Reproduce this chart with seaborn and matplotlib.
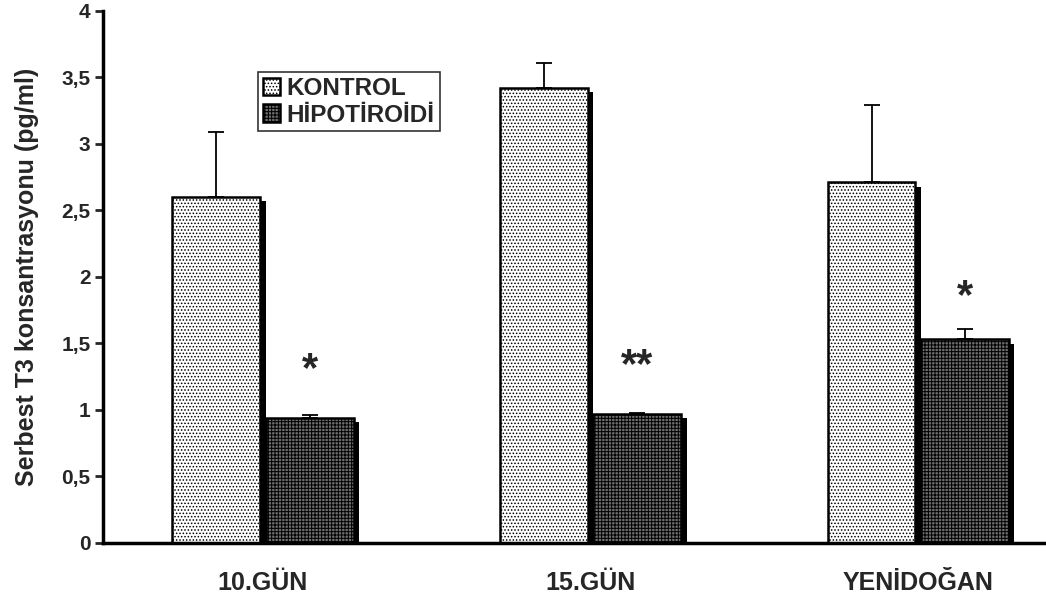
import pandas as pd
import matplotlib
matplotlib.use("Agg")
import matplotlib.pyplot as plt
import matplotlib.patheffects as pe
import seaborn as sns

# data
groups = ['10.GÜN', '15.GÜN', 'YENİDOĞAN']
kontrol = [2.60, 3.42, 2.71]
kontrol_err = [0.49, 0.19, 0.58]
hipo = [0.94, 0.97, 1.53]
hipo_err = [0.02, 0.01, 0.08]
stars = ['*', '**', '*']
star_y = [1.30, 1.33, 1.85]

df = pd.DataFrame({
    'grup': groups * 2,
    'deger': kontrol + hipo,
    'tur': ['KONTROL'] * 3 + ['HİPOTİROİDİ'] * 3,
})

sns.set_style('white')
plt.rcParams['font.family'] = ['Liberation Sans', 'DejaVu Sans']
plt.rcParams['font.weight'] = 'bold'
plt.rcParams['hatch.linewidth'] = 0.7

fig, ax = plt.subplots(figsize=(10.46, 6), dpi=100)
fig.subplots_adjust(left=0.0985, right=1.0, bottom=0.095, top=0.982)

sns.barplot(data=df, x='grup', y='deger', hue='tur', ax=ax,
            palette=['white', '#6e6e6e'], width=0.57, gap=0.06,
            edgecolor='black', linewidth=1.8, errorbar=None)

# drop shadow on the bars
shadow = [pe.SimplePatchShadow(offset=(4, -3), shadow_rgbFace='black', alpha=1.0),
          pe.Normal()]
hatches = ['.....'] * 3 + ['+++++'] * 3
errs = kontrol_err + hipo_err
bars = [p for p in ax.patches if p.get_height() > 0][:6]
for bar, h in zip(bars, hatches):
    bar.set_hatch(h)
    bar.set_path_effects(shadow)

xs = [b.get_x() + b.get_width() / 2 for b in bars]
ys = [b.get_height() for b in bars]
ax.errorbar(xs, ys, yerr=[[0] * 6, errs], fmt='none', ecolor='black',
            elinewidth=1.3, capsize=6, capthick=1.3, zorder=1)

for x, s, y in zip(xs[3:], stars, star_y):
    ax.text(x, y, s, ha='center', va='center', fontsize=30, fontweight='bold')

ax.set_xlim(-0.488, 2.39)
ax.set_ylim(0, 4)
ax.set_yticks([0, 0.5, 1, 1.5, 2, 2.5, 3, 3.5, 4])
ax.set_yticklabels(['0', '0,5', '1', '1,5', '2', '2,5', '3', '3,5', '4'])
ax.set_xlabel('')
ax.set_ylabel('Serbest T3 konsantrasyonu (pg/ml)', fontsize=18, fontweight='bold',
              labelpad=16)
ax.tick_params(axis='y', direction='out', length=6, width=2, labelsize=15, left=True,
               pad=3)
ax.tick_params(axis='x', length=0, labelsize=18, pad=20)
for t in ax.get_xticklabels() + ax.get_yticklabels():
    t.set_fontweight('bold')

sns.despine(ax=ax)
ax.spines['left'].set_linewidth(2.5)
ax.spines['bottom'].set_linewidth(2.5)
ax.spines['left'].set_color('black')
ax.spines['bottom'].set_color('black')

leg = ax.legend(loc='upper left', bbox_to_anchor=(0.164, 0.885), borderaxespad=0,
                frameon=True, fancybox=False, edgecolor='black', fontsize=17.5,
                handlelength=0.7, handleheight=0.7, handletextpad=0.3,
                borderpad=0.2, labelspacing=0.15)
leg.get_frame().set_linewidth(1.2)
for t in leg.get_texts():
    t.set_fontweight('bold')
for h, hh in zip(leg.legend_handles, ['.....', '+++++']):
    h.set_hatch(hh)

fig.savefig('out.png', dpi=100)
